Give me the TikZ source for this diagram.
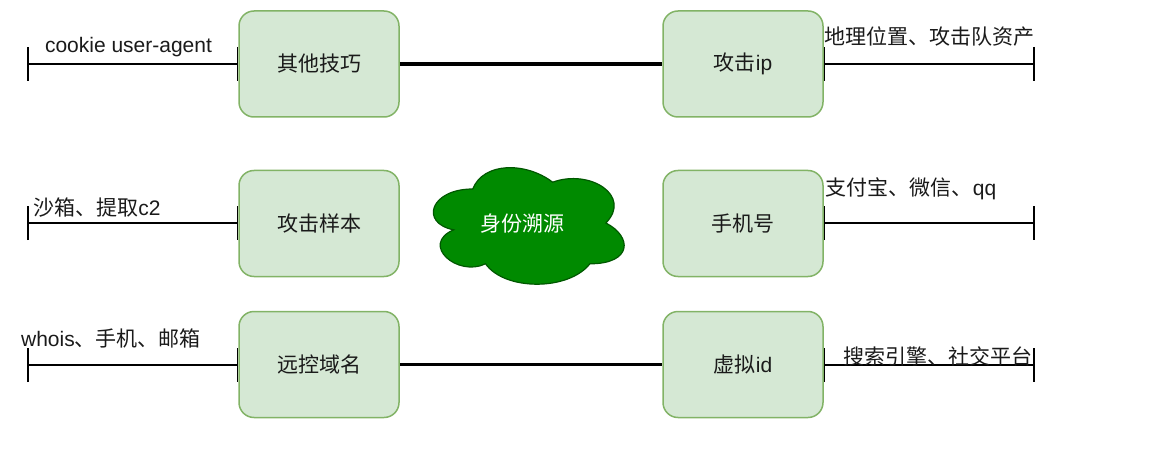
\documentclass[tikz,border=0pt]{standalone}
\usepackage{fontspec}
\setmainfont{Liberation Sans}
\newfontfamily\cjk{Noto Sans CJK SC}
\usetikzlibrary{arrows.meta}
\definecolor{boxfill}{HTML}{D5E8D4}
\definecolor{boxline}{HTML}{82B366}
\definecolor{cloudfill}{HTML}{008A00}
\definecolor{cloudline}{HTML}{005700}
\definecolor{txt}{HTML}{1A1A1A}
\tikzset{
  gbox/.style={rectangle, rounded corners=15pt, minimum width=160pt, minimum height=106pt,
    fill=boxfill, draw=boxline, line width=1.5pt, font=\fontsize{21}{25}\selectfont, text=txt, inner sep=0pt},
  lbl/.style={inner sep=0pt, text=txt, font=\fontsize{21}{25}\selectfont},
  tickline/.style={line width=1.6pt, {Bar[width=34pt]}-{Bar[width=34pt]}},
  thickline/.style={line width=3.4pt},
}
\begin{document}
\begin{tikzpicture}[x=1pt,y=-1pt]
\useasboundingbox (0,0) rectangle (1155,465);
% boxes
\node[gbox] (oth) at (319,64) {\cjk 其他技巧};
\node[gbox] (aip) at (743,64) {{\cjk 攻击}ip};
\node[gbox] (smp) at (319,223.5) {\cjk 攻击样本};
\node[gbox] (phn) at (743,223.5) {\cjk 手机号};
\node[gbox] (dom) at (319,364.5) {\cjk 远控域名};
\node[gbox] (vid) at (743,364.5) {{\cjk 虚拟}id};
% end points
\coordinate (l1) at (27,64);
\coordinate (r1) at (1035,64);
\coordinate (l2) at (27,223);
\coordinate (r2) at (1035,223);
\coordinate (l3) at (27,365);
\coordinate (r3) at (1035,365);
% connectors
\draw[tickline] (l1) -- (l1 -| oth.west);
\draw[tickline] (aip.east |- r1) -- (r1);
\draw[tickline] (l2) -- (l2 -| smp.west);
\draw[tickline] (phn.east |- r2) -- (r2);
\draw[tickline] (l3) -- (l3 -| dom.west);
\draw[tickline] (vid.east |- r3) -- (r3);
\draw[thickline] (oth) -- (aip);
\draw[thickline] (dom) -- (vid);
% cloud
\begin{scope}[shift={(419.5,155)}, x=213pt, y=-136pt]
\draw[fill=cloudfill, draw=cloudline, line width=1.2pt]
  (0.25,0.25) .. controls (0.05,0.25) and (0,0.5) .. (0.16,0.55)
  .. controls (0,0.66) and (0.18,0.9) .. (0.31,0.8)
  .. controls (0.4,1) and (0.7,1) .. (0.8,0.8)
  .. controls (1,0.8) and (1,0.6) .. (0.875,0.5)
  .. controls (1,0.3) and (0.8,0.1) .. (0.625,0.2)
  .. controls (0.5,0.05) and (0.3,0.05) .. (0.25,0.25) -- cycle;
\end{scope}
\node[lbl, text=white] (cloud) at (522,224) {\cjk 身份溯源};
% labels
\node[lbl, anchor=base] (t1) at (128.5,53) {cookie user-agent};
\node[lbl] (t2) at (929,37) {\cjk 地理位置、攻击队资产};
\node[lbl] (t3) at (97,208) {{\cjk 沙箱、提取}c2};
\node[lbl] (t4) at (911,189) {{\cjk 支付宝、微信、}qq};
\node[lbl] (t5) at (111,338) {whois{\cjk 、手机、邮箱}};
\node[lbl] (t6) at (938,356) {\cjk 搜索引擎、社交平台};
\end{tikzpicture}
\end{document}
